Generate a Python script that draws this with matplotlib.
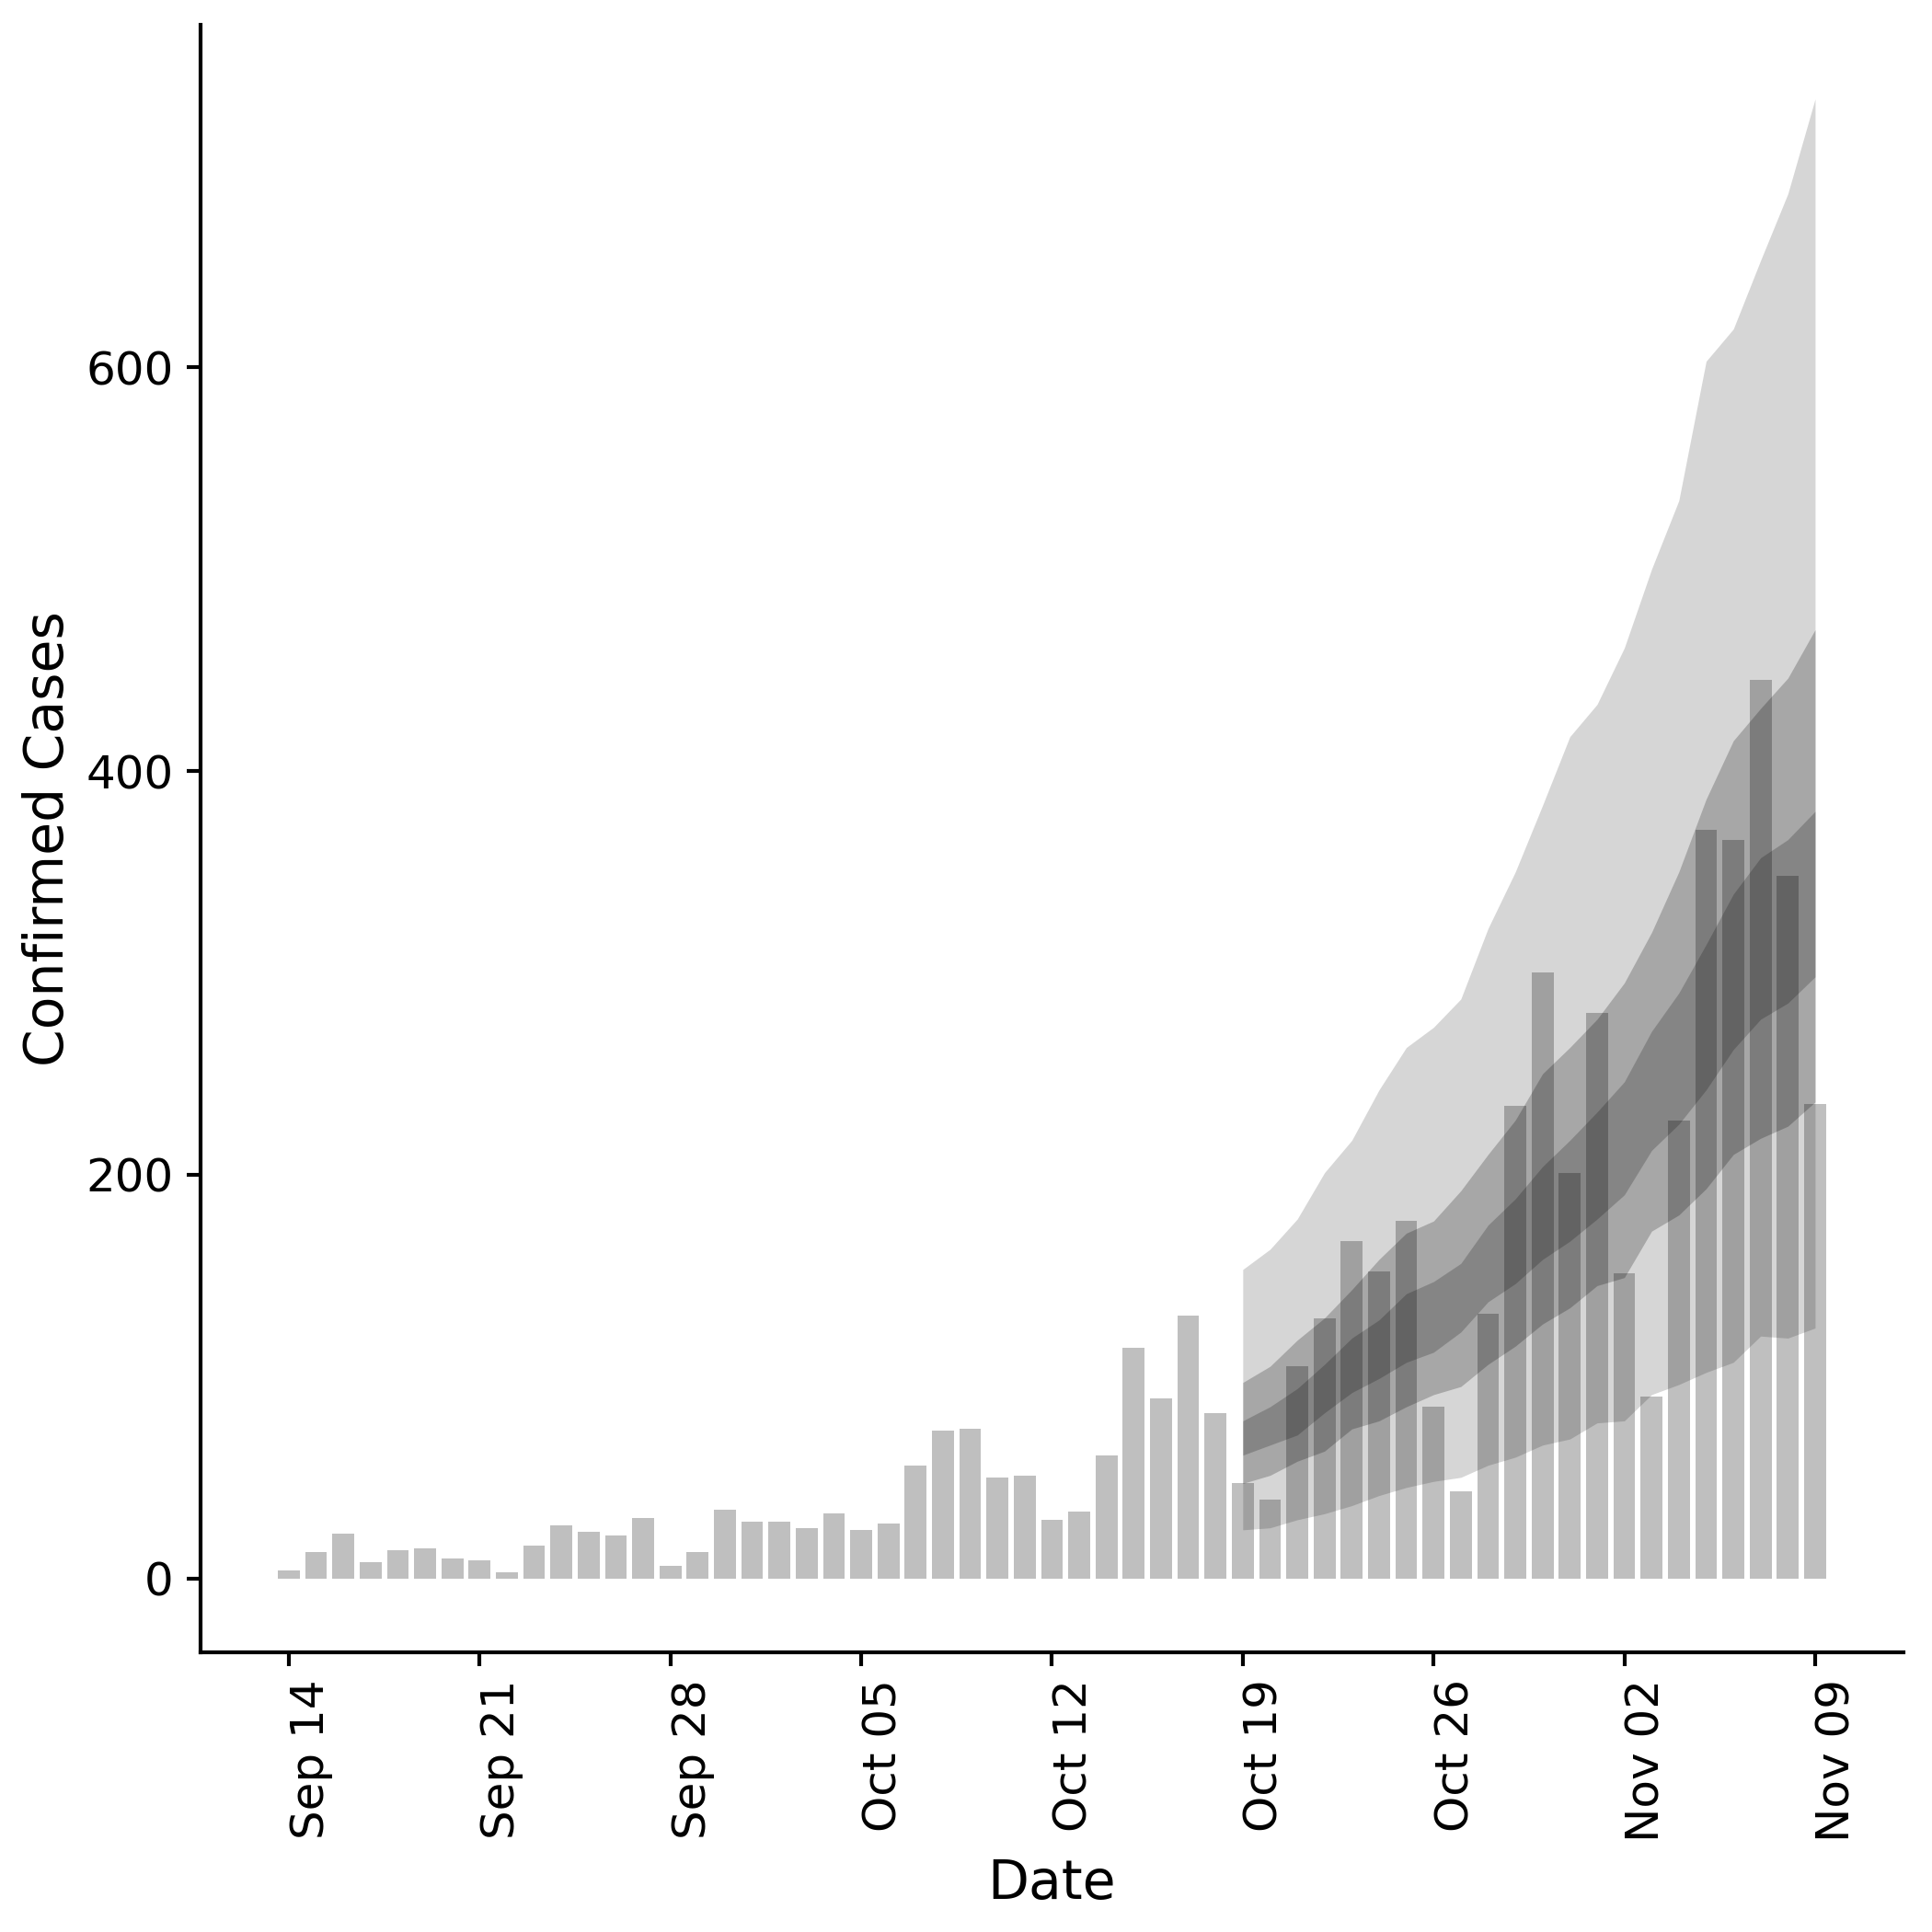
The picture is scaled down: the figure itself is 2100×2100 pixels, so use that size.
import numpy as np
import pandas as pd
import matplotlib
matplotlib.use('Agg')
import matplotlib.pyplot as plt
import matplotlib.dates as mdates

# daily confirmed cases, Sep 14 - Nov 09 2020
dates = pd.date_range('2020-09-14', '2020-11-09', freq='D')
cases = [4, 13, 22, 8, 14, 15, 10, 9, 3, 16, 26, 23, 21, 30, 6, 13, 34, 28, 28, 25,
         32, 24, 27, 56, 73, 74, 50, 51, 29, 33, 61, 114, 89, 130, 82, 47, 39, 105,
         129, 167, 152, 177, 85, 43, 131, 234, 300, 201, 280, 151, 90, 227, 371, 366,
         445, 348, 235]

# forecast intervals, Oct 19 - Nov 09
fc_dates = pd.date_range('2020-10-19', '2020-11-09', freq='D')
outer_lo = [24, 25, 29, 32, 36, 41, 45, 48, 50, 56, 60, 66, 69, 77, 78, 91, 96, 102,
            107, 120, 119, 124]
outer_hi = [153, 163, 178, 201, 217, 242, 263, 273, 287, 322, 350, 383, 417, 433,
            461, 500, 534, 603, 619, 653, 686, 733]
mid_lo = [47, 51, 58, 63, 74, 78, 85, 91, 95, 106, 115, 126, 134, 145, 149, 172, 180,
          193, 210, 218, 224, 236]
mid_hi = [97, 105, 118, 129, 143, 158, 171, 177, 192, 210, 227, 250, 263, 277, 295,
          320, 350, 386, 415, 431, 446, 470]
inner_lo = [61, 66, 71, 82, 92, 99, 107, 112, 122, 137, 146, 158, 167, 178, 190, 212,
            225, 242, 262, 277, 285, 298]
inner_hi = [78, 85, 94, 106, 119, 128, 141, 147, 156, 175, 188, 204, 217, 231, 246,
            271, 290, 314, 339, 357, 366, 380]

plt.rcParams['font.family'] = 'DejaVu Sans'

fig, ax = plt.subplots(figsize=(7, 7), dpi=300)
fig.subplots_adjust(left=0.1038, right=0.9852, top=0.9871, bottom=0.1448)

ax.bar(dates, cases, width=0.8, color='k', alpha=0.25, linewidth=0)

ax.fill_between(fc_dates, outer_lo, outer_hi, color='k', alpha=0.16, linewidth=0)
ax.fill_between(fc_dates, mid_lo, mid_hi, color='k', alpha=0.22, linewidth=0)
ax.fill_between(fc_dates, inner_lo, inner_hi, color='k', alpha=0.2, linewidth=0)

top = max(outer_hi)
ax.set_ylim(-0.05 * top, 1.05 * top)

ax.xaxis.set_major_locator(mdates.WeekdayLocator(byweekday=mdates.MO))
ax.xaxis.set_major_formatter(mdates.DateFormatter('%b %d'))
ax.tick_params(labelsize=12, width=1)
plt.setp(ax.get_xticklabels(), rotation=90, ha='left')
ax.set_yticks([0, 200, 400, 600])

for side in ['top', 'right']:
    ax.spines[side].set_visible(False)
for side in ['left', 'bottom']:
    ax.spines[side].set_linewidth(1)

ax.set_xlabel('Date', fontsize=14)
ax.set_ylabel('Confirmed Cases', fontsize=14, labelpad=3)

fig.savefig('out.png', dpi=300)
